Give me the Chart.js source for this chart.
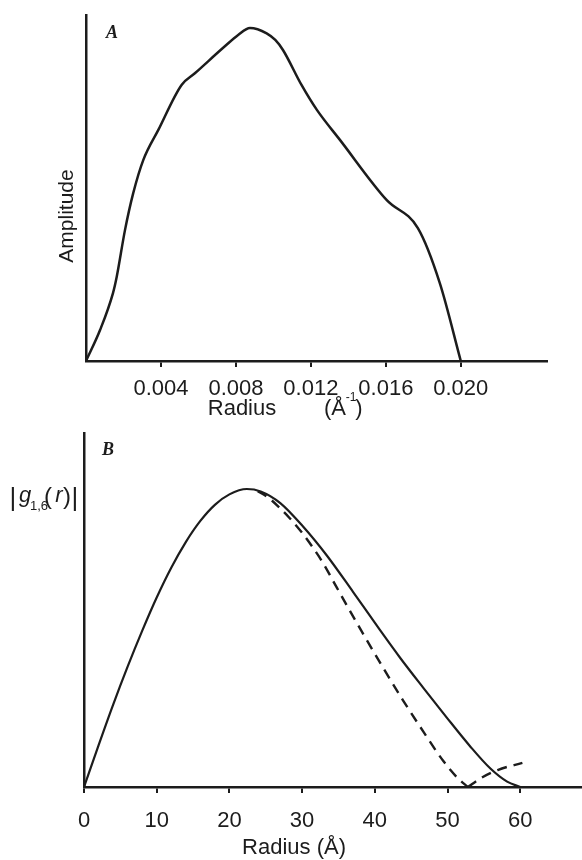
<!DOCTYPE html>
<html>
<head>
<meta charset="utf-8">
<script src="https://cdn.jsdelivr.net/npm/chart.js@4.4.1/dist/chart.umd.min.js"></script>
<style>
  body { margin: 0; background: #fff; }
  #painel { position: relative; width: 582px; height: 860px; }
  #painelA { position: absolute; left: 0; top: 0; }
  #painelB { position: absolute; left: 0; top: 430px; }
</style>
</head>
<body>
<div id="painel">
  <canvas id="painelA" width="582" height="430"></canvas>
  <canvas id="painelB" width="582" height="430"></canvas>
</div>
<script>
// Painel A: amplitude em função do raio (Å^-1)
const raioA = [0, 0.00075, 0.00144, 0.00164, 0.00208, 0.00252, 0.00306, 0.00386, 0.0051, 0.00581, 0.00741, 0.00812, 0.00875, 0.00964, 0.0101, 0.01051, 0.0115, 0.01232, 0.01355, 0.01605, 0.01771, 0.01888, 0.0200];
const amplitudeA = [0, 0.093, 0.204, 0.253, 0.393, 0.504, 0.604, 0.694, 0.829, 0.864, 0.945, 0.979, 1.0, 0.984, 0.964, 0.934, 0.829, 0.754, 0.664, 0.483, 0.399, 0.234, 0];
const ticksA = [0.004, 0.008, 0.012, 0.016, 0.020];

// Painel B: |g1,6(r)| em função do raio (Å)
const raioB = [0, 2, 4, 6, 8, 10, 12, 14, 16, 18, 20, 22.4, 24.3, 27.0, 30.1, 33.4, 37.0, 40.7, 43.5, 46.7, 49.9, 53.1, 55.9, 58.2, 60];
const gSolida = [0, 0.14, 0.276, 0.404, 0.524, 0.636, 0.736, 0.822, 0.893, 0.947, 0.982, 1.0, 0.992, 0.953, 0.875, 0.777, 0.655, 0.527, 0.433, 0.332, 0.233, 0.137, 0.062, 0.018, 0];
const raioTracejadoDesce = [23.9, 25.2, 26.7, 28.3, 30.0, 31.5, 32.9, 34.8, 36.6, 38.2, 41.0, 43.9, 46.7, 49.4, 51.4, 52.8];
const gTracejadoDesce = [0.993, 0.974, 0.942, 0.902, 0.853, 0.803, 0.751, 0.668, 0.59, 0.522, 0.406, 0.29, 0.185, 0.088, 0.03, 0];
const raioTracejadoSobe = [52.8, 54.6, 56.9, 60.3];
const gTracejadoSobe = [0, 0.03, 0.057, 0.081];
const ticksB = [0, 10, 20, 30, 40, 50, 60];

const preto = '#1c1c1c';
const fonteSans = '"Liberation Sans", Arial, sans-serif';

function pontos(xs, ys) {
    return xs.map((x, i) => ({ x: x, y: ys[i] }));
}

// Desenha os textos soltos (rótulos de eixo, letras dos painéis)
const pluginRotulos = {
    id: 'rotulos',
    afterDraw(chart, args, opts) {
        const ctx = chart.ctx;
        ctx.save();
        ctx.fillStyle = preto;
        (opts.itens || []).forEach(item => {
            ctx.save();
            ctx.font = item.fonte;
            ctx.textAlign = item.alinhar || 'center';
            ctx.textBaseline = 'alphabetic';
            ctx.translate(item.x, item.y);
            if (item.rot) ctx.rotate(item.rot);
            ctx.fillText(item.texto, 0, 0);
            ctx.restore();
        });
        ctx.restore();
    }
};

function eixoX(min, max, lista, formato, padding, altura) {
    return {
        type: 'linear',
        min: min,
        max: max,
        afterBuildTicks: scale => { scale.ticks = lista.map(v => ({ value: v })); },
        afterFit: scale => { scale.height = altura; },
        border: { display: true, color: preto, width: 2.5 },
        grid: { display: true, drawOnChartArea: false, drawTicks: true, tickLength: 6, color: preto, lineWidth: 2 },
        ticks: {
            color: preto,
            padding: padding,
            maxRotation: 0,
            autoSkip: false,
            font: { family: fonteSans, size: 22 },
            callback: formato
        }
    };
}

function eixoY(max, largura) {
    return {
        type: 'linear',
        min: 0,
        max: max,
        afterFit: scale => { scale.width = largura; },
        border: { display: true, color: preto, width: 2.5 },
        grid: { display: false },
        ticks: { display: false }
    };
}

// Gráfico A
new Chart(document.getElementById('painelA'), {
    type: 'line',
    data: {
        datasets: [{
            data: pontos(raioA, amplitudeA),
            borderColor: preto,
            borderWidth: 2.5,
            pointRadius: 0,
            cubicInterpolationMode: 'monotone',
            fill: false
        }]
    },
    options: {
        responsive: false,
        animation: false,
        layout: { padding: { left: 0, top: 15, right: 35, bottom: 0 } },
        plugins: {
            legend: { display: false },
            tooltip: { enabled: false },
            rotulos: {
                itens: [
                    { texto: 'A', x: 112, y: 38, fonte: 'italic bold 18px "Liberation Serif", serif' },
                    { texto: 'Amplitude', x: 73, y: 216, fonte: '21px ' + fonteSans, rot: -Math.PI / 2 },
                    { texto: 'Radius', x: 242, y: 415, fonte: '22px ' + fonteSans },
                    { texto: '(Å', x: 335, y: 415, fonte: '22px ' + fonteSans },
                    { texto: '-1', x: 351, y: 401, fonte: '12px ' + fonteSans },
                    { texto: ')', x: 359, y: 415, fonte: '22px ' + fonteSans }
                ]
            }
        },
        scales: {
            x: eixoX(0, 0.0246, ticksA, v => v.toFixed(3), 9, 69),
            y: eixoY(1.039, 86)
        }
    },
    plugins: [pluginRotulos]
});

// Gráfico B
new Chart(document.getElementById('painelB'), {
    type: 'line',
    data: {
        datasets: [{
            data: pontos(raioB, gSolida),
            borderColor: preto,
            borderWidth: 2.2,
            pointRadius: 0,
            cubicInterpolationMode: 'monotone',
            fill: false
        }, {
            data: pontos(raioTracejadoDesce, gTracejadoDesce),
            borderColor: preto,
            borderWidth: 2.4,
            borderDash: [10, 7],
            pointRadius: 0,
            cubicInterpolationMode: 'monotone',
            fill: false
        }, {
            data: pontos(raioTracejadoSobe, gTracejadoSobe),
            borderColor: preto,
            borderWidth: 2.4,
            borderDash: [10, 7],
            pointRadius: 0,
            cubicInterpolationMode: 'monotone',
            fill: false
        }]
    },
    options: {
        responsive: false,
        animation: false,
        layout: { padding: { left: 0, top: 3, right: 0, bottom: 0 } },
        plugins: {
            legend: { display: false },
            tooltip: { enabled: false },
            rotulos: {
                itens: [
                    { texto: 'B', x: 108, y: 25, fonte: 'italic bold 18px "Liberation Serif", serif' },
                    { texto: '|', x: 13, y: 76, fonte: '26px ' + fonteSans },
                    { texto: 'g', x: 25, y: 72, fonte: 'italic 22px ' + fonteSans },
                    { texto: '1,6', x: 39, y: 80, fonte: '13px ' + fonteSans },
                    { texto: '(', x: 48, y: 74, fonte: '24px ' + fonteSans },
                    { texto: 'r', x: 59, y: 72, fonte: 'italic 22px ' + fonteSans },
                    { texto: ')', x: 67, y: 74, fonte: '24px ' + fonteSans },
                    { texto: '|', x: 75, y: 76, fonte: '26px ' + fonteSans },
                    { texto: 'Radius (Å)', x: 294, y: 424, fonte: '22px ' + fonteSans }
                ]
            }
        },
        scales: {
            x: eixoX(0, 68.5, ticksB, v => String(v), 15, 73),
            y: eixoY(1.188, 84)
        }
    },
    plugins: [pluginRotulos]
});
</script>
</body>
</html>
